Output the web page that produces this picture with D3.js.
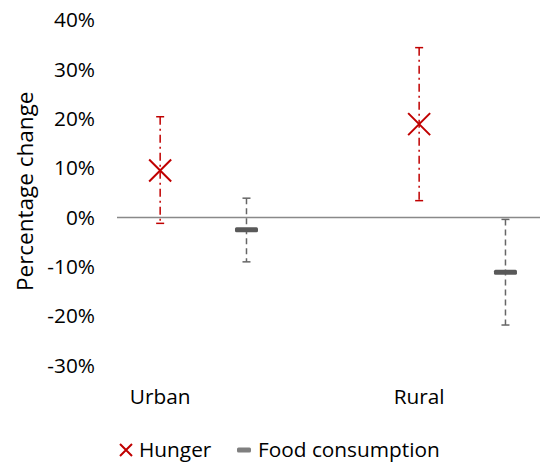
<!DOCTYPE html>
<html>
<head>
<meta charset="utf-8">
<script src="https://cdn.jsdelivr.net/npm/d3@7"></script>
<style>
  html, body { margin: 0; padding: 0; background: #fff; }
  svg { display: block; }
  text { font-family: "Open Sans", sans-serif; fill: #000; }
</style>
</head>
<body>
<svg id="chart" width="540" height="463"></svg>
<script>
// Percentage change in hunger and food consumption, with uncertainty ranges
const areas = ["Urban", "Rural"];
const hungerEst  = [0.095, 0.189];
const hungerLow  = [-0.012, 0.034];
const hungerHigh = [0.204, 0.344];
const foodEst  = [-0.025, -0.111];
const foodLow  = [-0.090, -0.218];
const foodHigh = [0.039, -0.004];
const yTicks = [-0.3, -0.2, -0.1, 0, 0.1, 0.2, 0.3, 0.4];

// x positions of each series within the area groups
const hungerPos = [1, 4];
const foodPos = [2, 5];

const RED = "#C00000";
const GREY = "#595959";
const FS = "20.8px";

const svg = d3.select("#chart");
const x = d3.scaleLinear().domain([0.5, 5.4]).range([117, 540]);
const y = d3.scaleLinear().domain([-0.3, 0.4]).range([365.5, 20]);

const pct = d => Math.round(d * 100) + "%";

// y axis labels only (no axis line)
const yAxis = d3.axisLeft(y).tickValues(yTicks).tickSize(0).tickPadding(0)
  .tickFormat(pct);
const ya = svg.append("g").attr("transform", "translate(95,0)").call(yAxis);
ya.select(".domain").remove();
ya.selectAll("text").style("font-size", FS).attr("fill", "#000")
  .attr("font-family", "'Open Sans', sans-serif");

// zero line
svg.append("line")
  .attr("x1", x(0.5)).attr("x2", 540)
  .attr("y1", y(0)).attr("y2", y(0))
  .attr("stroke", "#898989").attr("stroke-width", 1.5);

svg.append("text")
  .attr("transform", `translate(33,${y(0.053)}) rotate(-90)`)
  .attr("text-anchor", "middle")
  .style("font-size", "22.5px")
  .text("Percentage change");

// area labels
svg.selectAll(".area-label").data(areas).enter().append("text")
  .attr("class", "area-label")
  .attr("x", (d, i) => x(hungerPos[i]))
  .attr("y", 404)
  .attr("text-anchor", "middle")
  .style("font-size", FS)
  .text(d => d);

function errorBar(g, xs, lo, hi, color, dash) {
  xs.forEach((xv, i) => {
    const cx = x(xv);
    g.append("line").attr("x1", cx).attr("x2", cx)
      .attr("y1", y(hi[i])).attr("y2", y(lo[i]))
      .attr("stroke", color).attr("stroke-width", 1.5)
      .attr("stroke-dasharray", dash);
    [lo[i], hi[i]].forEach(v => {
      g.append("line").attr("x1", cx - 4).attr("x2", cx + 4)
        .attr("y1", y(v)).attr("y2", y(v))
        .attr("stroke", color).attr("stroke-width", 1.5);
    });
  });
}

const gH = svg.append("g");
errorBar(gH, hungerPos, hungerLow, hungerHigh, RED, "8,4,2,4");
const gF = svg.append("g");
errorBar(gF, foodPos, foodLow, foodHigh, "#666", "6,4");

// hunger markers (x)
function cross(g, cx, cy, r, color, w) {
  g.append("path")
    .attr("d", `M${cx - r},${cy - r}L${cx + r},${cy + r}M${cx - r},${cy + r}L${cx + r},${cy - r}`)
    .attr("stroke", color).attr("stroke-width", w).attr("fill", "none");
}
hungerPos.forEach((p, i) => cross(gH, x(p), y(hungerEst[i]), 11, RED, 2));

// food consumption markers (dash)
foodPos.forEach((p, i) => {
  gF.append("rect")
    .attr("x", x(p) - 11.5).attr("y", y(foodEst[i]) - 2.5)
    .attr("width", 23).attr("height", 5).attr("rx", 1.5)
    .attr("fill", GREY);
});

// legend
const lg = svg.append("g");
cross(lg, 126, 450, 6, RED, 2);
lg.append("text").attr("x", 139).attr("y", 457).style("font-size", FS).text("Hunger");
lg.append("rect").attr("x", 237).attr("y", 447.5).attr("width", 14).attr("height", 5)
  .attr("rx", 1.5).attr("fill", "#7f7f7f");
lg.append("text").attr("x", 258).attr("y", 457).style("font-size", FS).text("Food consumption");
</script>
</body>
</html>
